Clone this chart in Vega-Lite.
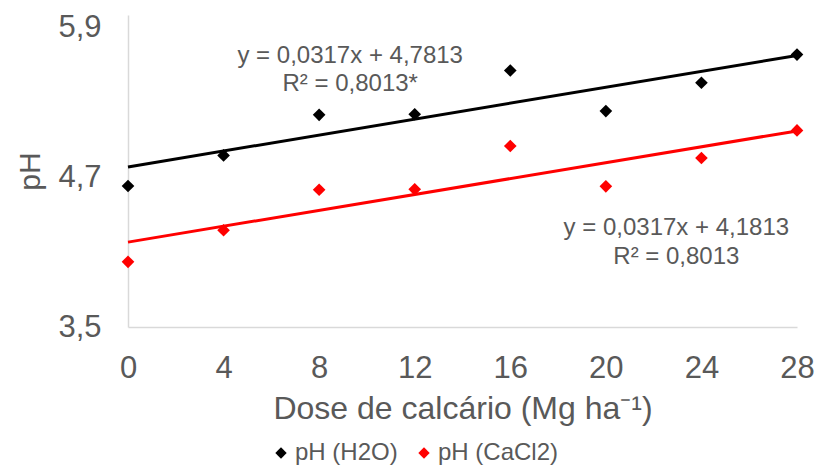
{
  "$schema": "https://vega.github.io/schema/vega-lite/v6.json",
  "width": 669,
  "height": 312,
  "autosize": {"type": "none"},
  "padding": {"left": 128, "top": 15, "right": 22, "bottom": 141},
  "background": "white",
  "config": {
    "view": {"stroke": null},
    "font": "Liberation Sans",
    "axis": {
      "grid": false,
      "ticks": false,
      "domainColor": "#d9d9d9",
      "domainWidth": 1.5,
      "labelColor": "#595959",
      "titleColor": "#595959",
      "titleFontWeight": "normal",
      "labelFontSize": 31,
      "titleFontSize": 32,
      "labelFont": "Liberation Sans",
      "titleFont": "Liberation Sans",
      "labelFlush": false
    }
  },
  "datasets": {
    "pts": [
      {"dose": 0, "pH": 4.63, "serie": "pH (H2O)"},
      {"dose": 4, "pH": 4.875, "serie": "pH (H2O)"},
      {"dose": 8, "pH": 5.2, "serie": "pH (H2O)"},
      {"dose": 12, "pH": 5.205, "serie": "pH (H2O)"},
      {"dose": 16, "pH": 5.555, "serie": "pH (H2O)"},
      {"dose": 20, "pH": 5.23, "serie": "pH (H2O)"},
      {"dose": 24, "pH": 5.457, "serie": "pH (H2O)"},
      {"dose": 28, "pH": 5.683, "serie": "pH (H2O)"},
      {"dose": 0, "pH": 4.022, "serie": "pH (CaCl2)"},
      {"dose": 4, "pH": 4.275, "serie": "pH (CaCl2)"},
      {"dose": 8, "pH": 4.6, "serie": "pH (CaCl2)"},
      {"dose": 12, "pH": 4.603, "serie": "pH (CaCl2)"},
      {"dose": 16, "pH": 4.95, "serie": "pH (CaCl2)"},
      {"dose": 20, "pH": 4.627, "serie": "pH (CaCl2)"},
      {"dose": 24, "pH": 4.854, "serie": "pH (CaCl2)"},
      {"dose": 28, "pH": 5.075, "serie": "pH (CaCl2)"}
    ],
    "notes": [
      {"dose": 9.3, "pH": 5.675, "label": "y = 0,0317x + 4,7813"},
      {"dose": 9.3, "pH": 5.45, "label": "R² = 0,8013*"},
      {"dose": 22.95, "pH": 4.29, "label": "y = 0,0317x + 4,1813"},
      {"dose": 22.95, "pH": 4.06, "label": "R² = 0,8013"}
    ]
  },
  "layer": [
    {
      "data": {"name": "pts"},
      "transform": [
        {"filter": "datum.serie === 'pH (H2O)'"},
        {"regression": "pH", "on": "dose", "method": "linear", "extent": [0, 28]}
      ],
      "mark": {"type": "line", "strokeWidth": 3, "color": "#000000"},
      "encoding": {
        "x": {"field": "dose", "type": "quantitative"},
        "y": {"field": "pH", "type": "quantitative"}
      }
    },
    {
      "data": {"name": "pts"},
      "transform": [
        {"filter": "datum.serie === 'pH (CaCl2)'"},
        {"regression": "pH", "on": "dose", "method": "linear", "extent": [0, 28]}
      ],
      "mark": {"type": "line", "strokeWidth": 3, "color": "#ff0000"},
      "encoding": {
        "x": {"field": "dose", "type": "quantitative"},
        "y": {"field": "pH", "type": "quantitative"}
      }
    },
    {
      "data": {"name": "pts"},
      "mark": {"type": "point", "shape": "diamond", "filled": true, "size": 160, "opacity": 1},
      "encoding": {
        "x": {
          "field": "dose",
          "type": "quantitative",
          "scale": {"domain": [0, 28], "nice": false, "zero": false},
          "axis": {
            "title": "Dose de calcário (Mg ha⁻¹)",
            "values": [0, 4, 8, 12, 16, 20, 24, 28],
            "labelPadding": 26,
            "titlePadding": 10
          }
        },
        "y": {
          "field": "pH",
          "type": "quantitative",
          "scale": {"domain": [3.5, 6.0], "nice": false, "zero": false},
          "axis": {
            "title": "pH",
            "values": [3.5, 4.7, 5.9],
            "labelExpr": "replace(format(datum.value, '.1f'), '.', ',')",
            "labelPadding": 27,
            "titleFontSize": 30,
            "titlePadding": 12
          }
        },
        "color": {
          "field": "serie",
          "type": "nominal",
          "scale": {"domain": ["pH (H2O)", "pH (CaCl2)"], "range": ["#000000", "#ff0000"]},
          "legend": {
            "title": null,
            "orient": "none",
            "direction": "horizontal",
            "legendX": 141,
            "legendY": 426,
            "symbolType": "diamond",
            "symbolSize": 130,
            "labelFontSize": 24,
            "labelColor": "#595959",
            "labelFont": "Liberation Sans",
            "columnPadding": 14,
            "labelOffset": 2
          }
        }
      }
    },
    {
      "data": {"name": "notes"},
      "mark": {"type": "text", "fontSize": 24, "color": "#595959", "align": "center", "baseline": "middle", "font": "Liberation Sans"},
      "encoding": {
        "x": {"field": "dose", "type": "quantitative"},
        "y": {"field": "pH", "type": "quantitative"},
        "text": {"field": "label"}
      }
    }
  ]
}
